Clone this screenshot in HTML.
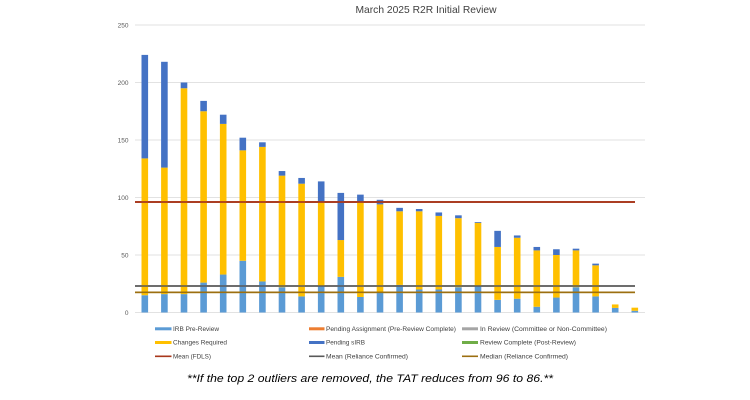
<!DOCTYPE html>
<html><head><meta charset="utf-8"><style>
html,body{margin:0;padding:0;background:#fff;}
svg{display:block;font-family:"Liberation Sans",sans-serif;}
</style></head><body>
<svg width="750" height="400" viewBox="0 0 750 400" xmlns="http://www.w3.org/2000/svg">
<rect width="750" height="400" fill="#fff"/>
<text x="355.5" y="13" font-size="10.5" fill="#404040" textLength="141" lengthAdjust="spacingAndGlyphs">March 2025 R2R Initial Review</text>
<g stroke="#d9d9d9" stroke-width="0.8">
<line x1="135" y1="25" x2="645" y2="25"/>
<line x1="135" y1="82.5" x2="645" y2="82.5"/>
<line x1="135" y1="140" x2="645" y2="140"/>
<line x1="135" y1="197.5" x2="645" y2="197.5"/>
<line x1="135" y1="255" x2="645" y2="255"/>
<line x1="135" y1="312.5" x2="645" y2="312.5"/>
</g>
<g font-size="6.5" fill="#595959" text-anchor="end">
<text x="128.5" y="27.3">250</text>
<text x="128.5" y="84.8">200</text>
<text x="128.5" y="142.3">150</text>
<text x="128.5" y="199.8">100</text>
<text x="128.5" y="257.3">50</text>
<text x="128.5" y="314.8">0</text>
</g>
<g id="bars"></g>
<line x1="135" y1="202" x2="635" y2="202" stroke="#A8381C" stroke-width="1.8"/>
<line x1="135" y1="286" x2="635" y2="286" stroke="#595959" stroke-width="1.6"/>
<line x1="135" y1="292.3" x2="635" y2="292.3" stroke="#9C6F10" stroke-width="1.6"/>
<g font-size="6.5" fill="#404040">
<rect x="155" y="327.3" width="16.5" height="3" fill="#5B9BD5"/>
<text x="173" y="331" textLength="46" lengthAdjust="spacingAndGlyphs">IRB Pre-Review</text>
<rect x="309" y="327.3" width="15.5" height="3" fill="#ED7D31"/>
<text x="326" y="331" textLength="130" lengthAdjust="spacingAndGlyphs">Pending Assignment (Pre-Review Complete)</text>
<rect x="462" y="327.3" width="16" height="3" fill="#A5A5A5"/>
<text x="480" y="331" textLength="127" lengthAdjust="spacingAndGlyphs">In Review (Committee or Non-Committee)</text>
<rect x="155" y="341" width="16.5" height="3" fill="#FFC000"/>
<text x="173" y="344.7" textLength="54" lengthAdjust="spacingAndGlyphs">Changes Required</text>
<rect x="309" y="341" width="15.5" height="3" fill="#4472C4"/>
<text x="326" y="344.7" textLength="39" lengthAdjust="spacingAndGlyphs">Pending sIRB</text>
<rect x="462" y="341" width="16" height="3" fill="#70AD47"/>
<text x="480" y="344.7" textLength="96" lengthAdjust="spacingAndGlyphs">Review Complete (Post-Review)</text>
<line x1="155" y1="356.3" x2="171.5" y2="356.3" stroke="#A8381C" stroke-width="1.6"/>
<text x="173" y="358.7" textLength="38" lengthAdjust="spacingAndGlyphs">Mean (FDLS)</text>
<line x1="309" y1="356.3" x2="324.5" y2="356.3" stroke="#595959" stroke-width="1.6"/>
<text x="326" y="358.7" textLength="82" lengthAdjust="spacingAndGlyphs">Mean (Reliance Confirmed)</text>
<line x1="462" y1="356.3" x2="478" y2="356.3" stroke="#9C6F10" stroke-width="1.6"/>
<text x="480" y="358.7" textLength="88" lengthAdjust="spacingAndGlyphs">Median (Reliance Confirmed)</text>
</g>
<text x="187" y="382" font-size="11" font-style="italic" fill="#000" textLength="366" lengthAdjust="spacingAndGlyphs">**If the top 2 outliers are removed, the TAT reduces from 96 to 86.**</text>
<g>
<!-- bars generated inline -->
<rect x="141.5" y="295.25" width="6.6" height="17.25" fill="#5B9BD5"/><rect x="141.5" y="158.4" width="6.6" height="136.85" fill="#FFC000"/><rect x="141.5" y="54.9" width="6.6" height="103.5" fill="#4472C4"/>
<rect x="161.1" y="294.1" width="6.6" height="18.4" fill="#5B9BD5"/><rect x="161.1" y="167.6" width="6.6" height="126.5" fill="#FFC000"/><rect x="161.1" y="61.8" width="6.6" height="105.8" fill="#4472C4"/>
<rect x="180.7" y="294.1" width="6.6" height="18.4" fill="#5B9BD5"/><rect x="180.7" y="88.25" width="6.6" height="205.85" fill="#FFC000"/><rect x="180.7" y="82.5" width="6.6" height="5.75" fill="#4472C4"/>
<rect x="200.3" y="282.6" width="6.6" height="29.9" fill="#5B9BD5"/><rect x="200.3" y="111.25" width="6.6" height="171.35" fill="#FFC000"/><rect x="200.3" y="100.9" width="6.6" height="10.35" fill="#4472C4"/>
<rect x="219.9" y="274.55" width="6.6" height="37.95" fill="#5B9BD5"/><rect x="219.9" y="123.9" width="6.6" height="150.65" fill="#FFC000"/><rect x="219.9" y="114.7" width="6.6" height="9.2" fill="#4472C4"/>
<rect x="239.5" y="260.75" width="6.6" height="51.75" fill="#5B9BD5"/><rect x="239.5" y="150.35" width="6.6" height="110.4" fill="#FFC000"/><rect x="239.5" y="137.7" width="6.6" height="12.65" fill="#4472C4"/>
<rect x="259.1" y="281.45" width="6.6" height="31.05" fill="#5B9BD5"/><rect x="259.1" y="146.9" width="6.6" height="134.55" fill="#FFC000"/><rect x="259.1" y="142.3" width="6.6" height="4.6" fill="#4472C4"/>
<rect x="278.7" y="287.2" width="6.6" height="25.3" fill="#5B9BD5"/><rect x="278.7" y="175.65" width="6.6" height="111.55" fill="#FFC000"/><rect x="278.7" y="171.05" width="6.6" height="4.6" fill="#4472C4"/>
<rect x="298.3" y="296.4" width="6.6" height="16.1" fill="#5B9BD5"/><rect x="298.3" y="183.7" width="6.6" height="112.7" fill="#FFC000"/><rect x="298.3" y="177.95" width="6.6" height="5.75" fill="#4472C4"/>
<rect x="317.9" y="286.05" width="6.6" height="26.45" fill="#5B9BD5"/><rect x="317.9" y="202.1" width="6.6" height="83.95" fill="#FFC000"/><rect x="317.9" y="181.4" width="6.6" height="20.7" fill="#4472C4"/>
<rect x="337.5" y="276.85" width="6.6" height="35.65" fill="#5B9BD5"/><rect x="337.5" y="240.05" width="6.6" height="36.8" fill="#FFC000"/><rect x="337.5" y="192.9" width="6.6" height="47.15" fill="#4472C4"/>
<rect x="357.1" y="296.98" width="6.6" height="15.52" fill="#5B9BD5"/><rect x="357.1" y="201.53" width="6.6" height="95.45" fill="#FFC000"/><rect x="357.1" y="194.63" width="6.6" height="6.9" fill="#4472C4"/>
<rect x="376.7" y="291.8" width="6.6" height="20.7" fill="#5B9BD5"/><rect x="376.7" y="204.4" width="6.6" height="87.4" fill="#FFC000"/><rect x="376.7" y="199.8" width="6.6" height="4.6" fill="#4472C4"/>
<rect x="396.3" y="284.9" width="6.6" height="27.6" fill="#5B9BD5"/><rect x="396.3" y="211.3" width="6.6" height="73.6" fill="#FFC000"/><rect x="396.3" y="207.85" width="6.6" height="3.45" fill="#4472C4"/>
<rect x="415.9" y="289.5" width="6.6" height="23" fill="#5B9BD5"/><rect x="415.9" y="211.3" width="6.6" height="78.2" fill="#FFC000"/><rect x="415.9" y="209" width="6.6" height="2.3" fill="#4472C4"/>
<rect x="435.5" y="289.5" width="6.6" height="23" fill="#5B9BD5"/><rect x="435.5" y="215.9" width="6.6" height="73.6" fill="#FFC000"/><rect x="435.5" y="212.45" width="6.6" height="3.45" fill="#4472C4"/>
<rect x="455.1" y="287.2" width="6.6" height="25.3" fill="#5B9BD5"/><rect x="455.1" y="218.2" width="6.6" height="69" fill="#FFC000"/><rect x="455.1" y="215.33" width="6.6" height="2.87" fill="#4472C4"/>
<rect x="474.7" y="286.05" width="6.6" height="26.45" fill="#5B9BD5"/><rect x="474.7" y="222.8" width="6.6" height="63.25" fill="#FFC000"/><rect x="474.7" y="222" width="6.6" height="0.8" fill="#4472C4"/>
<rect x="494.3" y="299.85" width="6.6" height="12.65" fill="#5B9BD5"/><rect x="494.3" y="246.95" width="6.6" height="52.9" fill="#FFC000"/><rect x="494.3" y="230.85" width="6.6" height="16.1" fill="#4472C4"/>
<rect x="513.9" y="298.7" width="6.6" height="13.8" fill="#5B9BD5"/><rect x="513.9" y="237.75" width="6.6" height="60.95" fill="#FFC000"/><rect x="513.9" y="235.45" width="6.6" height="2.3" fill="#4472C4"/>
<rect x="533.5" y="306.75" width="6.6" height="5.75" fill="#5B9BD5"/><rect x="533.5" y="250.4" width="6.6" height="56.35" fill="#FFC000"/><rect x="533.5" y="246.95" width="6.6" height="3.45" fill="#4472C4"/>
<rect x="553.1" y="297.55" width="6.6" height="14.95" fill="#5B9BD5"/><rect x="553.1" y="255" width="6.6" height="42.55" fill="#FFC000"/><rect x="553.1" y="249.25" width="6.6" height="5.75" fill="#4472C4"/>
<rect x="572.7" y="287.2" width="6.6" height="25.3" fill="#5B9BD5"/><rect x="572.7" y="250.4" width="6.6" height="36.8" fill="#FFC000"/><rect x="572.7" y="248.68" width="6.6" height="1.72" fill="#4472C4"/>
<rect x="592.3" y="296.4" width="6.6" height="16.1" fill="#5B9BD5"/><rect x="592.3" y="265.35" width="6.6" height="31.05" fill="#FFC000"/><rect x="592.3" y="263.63" width="6.6" height="1.72" fill="#4472C4"/>
<rect x="611.9" y="307.9" width="6.6" height="4.6" fill="#5B9BD5"/><rect x="611.9" y="304.45" width="6.6" height="3.45" fill="#FFC000"/>
<rect x="631.5" y="310.78" width="6.6" height="1.72" fill="#5B9BD5"/><rect x="631.5" y="307.67" width="6.6" height="3.11" fill="#FFC000"/>
</g>
<line x1="135" y1="202" x2="635" y2="202" stroke="#A8381C" stroke-width="1.8"/>
<line x1="135" y1="286" x2="635" y2="286" stroke="#595959" stroke-width="1.6"/>
<line x1="135" y1="292.3" x2="635" y2="292.3" stroke="#9C6F10" stroke-width="1.6"/>
</svg>
</body></html>
